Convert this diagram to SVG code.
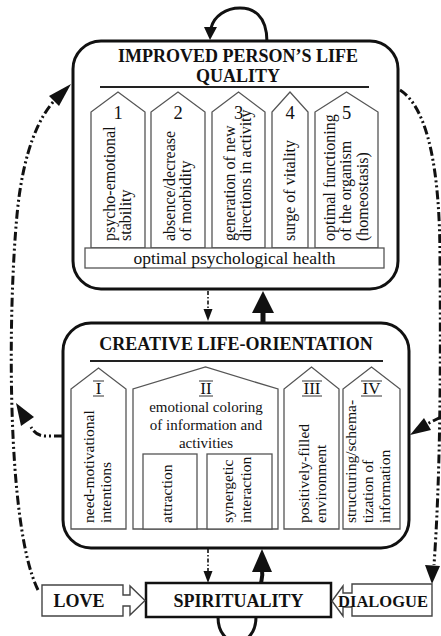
<svg xmlns="http://www.w3.org/2000/svg" width="441" height="636" viewBox="0 0 441 636">
<style>
text{font-family:"Liberation Serif","Times New Roman",serif;fill:#111}
.title{font-weight:bold;font-size:18px;text-anchor:middle}
.num{font-size:18.5px;text-anchor:middle}
.rn{font-size:17px;text-anchor:middle}
.vt{font-size:16px}
.vm{font-size:15.5px}
.ht{font-size:15px;text-anchor:middle}
.big{fill:#fff;stroke:#111;stroke-width:3}
.pent{fill:#fff;stroke:#555;stroke-width:1.3}
.thin{stroke:#555;stroke-width:1.2}
.dd{fill:none;stroke:#111;stroke-width:3;stroke-dasharray:9 3 2 3 2 3}
.ds{fill:none;stroke:#111;stroke-width:1.6;stroke-dasharray:4 2 1.5 2}
.solid{fill:none;stroke:#111;stroke-width:3}
.head{fill:#111}
.blk{fill:#fff;stroke:#444;stroke-width:1.4}
</style>

<g id="improved-life-quality">
  <rect class="big" x="73" y="41" width="325" height="248" rx="28"/>
  <text class="title" x="238" y="62">IMPROVED PERSON’S LIFE</text>
  <text class="title" x="238" y="82">QUALITY</text>
  <line x1="100" y1="87" x2="369" y2="87" stroke="#222" stroke-width="2"/>
  <path class="pent" d="M91,248 V112 L118,92 L145,112 V248 Z"/>
  <path class="pent" d="M151,248 V112 L178,92 L205,112 V248 Z"/>
  <path class="pent" d="M212,248 V112 L238.5,92 L265,112 V248 Z"/>
  <path class="pent" d="M272,248 V112 L290,92 L308,112 V248 Z"/>
  <path class="pent" d="M315,248 V112 L346.5,92 L378,112 V248 Z"/>
  <text class="num" x="118" y="119">1</text>
  <text class="num" x="178" y="119">2</text>
  <text class="num" x="238.5" y="119">3</text>
  <text class="num" x="290" y="119">4</text>
  <text class="num" x="346.5" y="119">5</text>
  <text class="vt" transform="translate(115,241) rotate(-90)">psycho-emotional</text>
  <text class="vt" transform="translate(131,241) rotate(-90)">stability</text>
  <text class="vt" transform="translate(175,241) rotate(-90)">absence/decrease</text>
  <text class="vt" transform="translate(191,241) rotate(-90)">of morbidity</text>
  <text class="vt" transform="translate(235,241) rotate(-90)">generation of new</text>
  <text class="vt" transform="translate(251,241) rotate(-90)">directions in activity</text>
  <text class="vt" transform="translate(295,241) rotate(-90)">surge of vitality</text>
  <text class="vt" transform="translate(335,241) rotate(-90)">optimal functioning</text>
  <text class="vt" transform="translate(351,241) rotate(-90)">of the organism</text>
  <text class="vt" transform="translate(368,241) rotate(-90)">(homeostasis)</text>
  <rect class="pent" x="85" y="248" width="299" height="20"/>
  <text x="234.5" y="264" font-size="17.5" text-anchor="middle">optimal psychological health</text>
</g>

<g id="creative-life-orientation">
  <rect class="big" x="63" y="323" width="346" height="225" rx="28"/>
  <text class="title" x="236" y="350">CREATIVE LIFE-ORIENTATION</text>
  <line x1="90" y1="361" x2="383" y2="361" stroke="#222" stroke-width="2"/>
  <path class="pent" d="M71,529 V389 L98.5,368 L126,389 V529 Z"/>
  <path class="pent" d="M133,529 V389 L205.5,367 L278,389 V529 Z"/>
  <path class="pent" d="M284,529 V389 L311.5,367 L339,389 V529 Z"/>
  <path class="pent" d="M343,529 V389 L371.5,367 L400,389 V529 Z"/>
  <rect class="pent" x="143" y="454" width="54" height="75"/>
  <rect class="pent" x="207" y="454" width="65" height="75"/>
  <text class="rn" x="98.5" y="394">I</text>
  <line class="thin" x1="93" y1="381" x2="104" y2="381"/><line class="thin" x1="93" y1="396" x2="104" y2="396"/>
  <text class="rn" x="206" y="394">II</text>
  <line class="thin" x1="199" y1="381" x2="213" y2="381"/><line class="thin" x1="199" y1="396" x2="213" y2="396"/>
  <text class="rn" x="312" y="394">III</text>
  <line class="thin" x1="302" y1="381" x2="322" y2="381"/><line class="thin" x1="302" y1="396" x2="322" y2="396"/>
  <text class="rn" x="371.5" y="394">IV</text>
  <line class="thin" x1="361" y1="381" x2="382" y2="381"/><line class="thin" x1="361" y1="396" x2="382" y2="396"/>
  <text class="ht" x="206" y="412">emotional coloring</text>
  <text class="ht" x="206" y="430">of information and</text>
  <text class="ht" x="206" y="448">activities</text>
  <text class="vm" transform="translate(94,523) rotate(-90)">need-motivational</text>
  <text class="vm" transform="translate(111,523) rotate(-90)">intentions</text>
  <text class="vm" transform="translate(172,523) rotate(-90)">attraction</text>
  <text class="vm" transform="translate(233,523) rotate(-90)">synergetic</text>
  <text class="vm" transform="translate(251,523) rotate(-90)">interaction</text>
  <text class="vm" transform="translate(309,523) rotate(-90)">positively-filled</text>
  <text class="vm" transform="translate(326,523) rotate(-90)">environment</text>
  <text class="vm" transform="translate(356,523) rotate(-90)">structuring/schema-</text>
  <text class="vm" transform="translate(373,523) rotate(-90)">tization of</text>
  <text class="vm" transform="translate(390,523) rotate(-90)">information</text>
</g>

<g id="spirituality">
  <rect x="146" y="583" width="185" height="34" fill="#fff" stroke="#111" stroke-width="2.5"/>
  <text class="title" x="238.5" y="607">SPIRITUALITY</text>
</g>

<g id="love">
  <path class="blk" d="M42,585 H123 V595 H130 V586 L145,600.5 L130,615 V606 H123 V616 H42 Z"/>
  <text class="title" x="79" y="607">LOVE</text>
</g>

<g id="dialogue">
  <path class="blk" d="M432,584 H352 V593 H343 V586 L332,601 L343,616 V607 H352 V616 H432 Z"/>
  <text x="383" y="607" font-size="16.5" font-weight="bold" text-anchor="middle">DIALOGUE</text>
</g>

<g id="connectors">
  <path class="solid" d="M267,42 C267,14 252,8 240,8 C226,8 214,16 211,28"/>
  <polygon class="head" points="204,27 217,27 210,40"/>
  <line class="ds" x1="208" y1="291" x2="208" y2="310"/>
  <polygon class="head" points="203.5,309 212.5,309 208,321"/>
  <line x1="263" y1="323" x2="263" y2="310" stroke="#111" stroke-width="5"/>
  <polygon class="head" points="252,313 274,313 263,291"/>
  <line class="ds" x1="208" y1="549" x2="208" y2="572"/>
  <polygon class="head" points="203.5,571 212.5,571 208,583"/>
  <path d="M261,583 C262,578 263,575 262,570" fill="none" stroke="#111" stroke-width="4"/>
  <polygon class="head" points="252,572 272,572 262,549"/>
  <path class="solid" d="M218,617 C218,650 256,650 256,617"/>
  <path class="dd" d="M38,590 C6,525 8,310 17,215 C23,150 40,115 56,99"/>
  <polygon class="head" points="71,84 59,106 49,96"/>
  <path class="dd" d="M63,436 H45 Q36,436 31,427"/>
  <polygon class="head" points="16,403 34,417 21,426"/>
  <path class="dd" d="M400,90 C428,108 440,170 440,260 C441,380 440,480 434,565"/>
  <polygon class="head" points="425,565 440,566 432,584"/>
  <path class="dd" d="M441,417 L427,424"/>
  <polygon class="head" points="410,435 424,418 431,430"/>
</g>
</svg>
